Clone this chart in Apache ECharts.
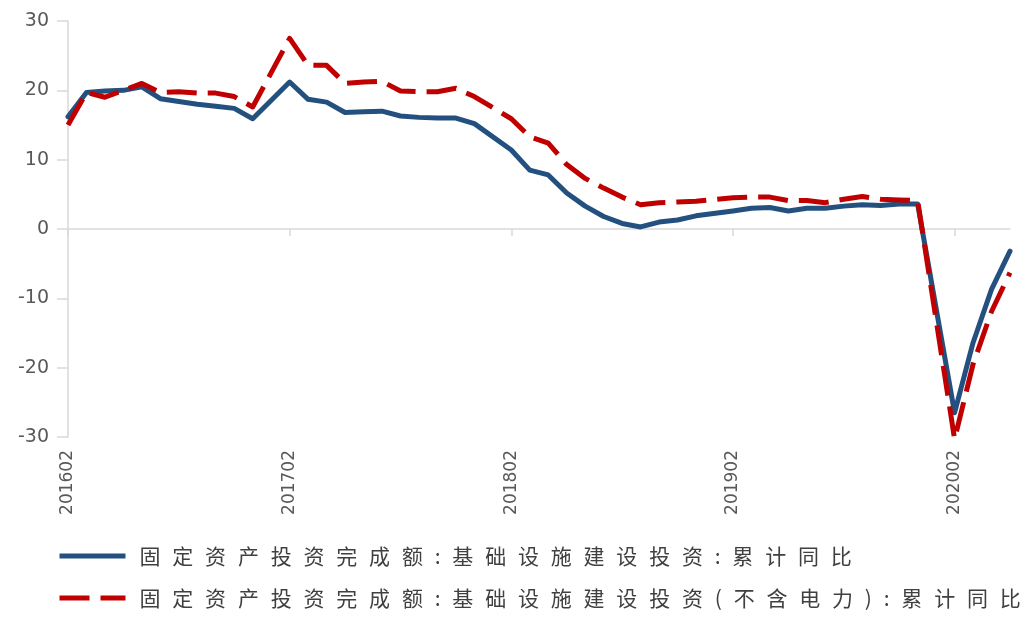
<!DOCTYPE html>
<html>
<head>
<meta charset="utf-8">
<script src="https://cdn.jsdelivr.net/npm/echarts@6/dist/echarts.min.js"></script>
<style>
html,body{margin:0;padding:0;background:#fff;}
#main{width:1029px;height:621px;}
</style>
</head>
<body>
<div id="main"></div>
<script>
// Monthly categories (January has no separate release; kept as empty gaps)
const categories = [
  '201602','201603','201604','201605','201606','201607','201608','201609','201610','201611','201612',
  '201701','201702','201703','201704','201705','201706','201707','201708','201709','201710','201711','201712',
  '201801','201802','201803','201804','201805','201806','201807','201808','201809','201810','201811','201812',
  '201901','201902','201903','201904','201905','201906','201907','201908','201909','201910','201911','201912',
  '202001','202002','202003','202004','202005'
];

const seriesNames = [
  '固定资产投资完成额:基础设施建设投资:累计同比',
  '固定资产投资完成额:基础设施建设投资(不含电力):累计同比'
];

// 基础设施建设投资 累计同比 (%)
const infraTotal = [
  16.2, 19.7, 19.9, 20.0, 20.5, 18.8, 18.4, 18.0, 17.7, 17.4, 15.9,
  null, 21.2, 18.7, 18.3, 16.8, 16.9, 17.0, 16.3, 16.1, 16.0, 16.0, 15.2,
  null, 11.4, 8.5, 7.8, 5.2, 3.3, 1.8, 0.8, 0.3, 1.0, 1.3, 1.9,
  null, 2.6, 3.0, 3.1, 2.6, 3.0, 3.0, 3.3, 3.5, 3.4, 3.6, 3.6,
  null, -26.5, -16.4, -8.7, -3.2
];

// 基础设施建设投资(不含电力) 累计同比 (%)
const infraExPower = [
  15.0, 19.7, 19.0, 20.0, 21.0, 19.7, 19.8, 19.6, 19.6, 19.1, 17.6,
  null, 27.5, 23.6, 23.6, 21.0, 21.2, 21.3, 19.9, 19.8, 19.8, 20.3, 19.1,
  null, 15.9, 13.3, 12.4, 9.3, 7.3, 5.9, 4.6, 3.5, 3.8, 3.9, 4.0,
  null, 4.5, 4.6, 4.6, 4.1, 4.1, 3.8, 4.3, 4.7, 4.3, 4.2, 4.1,
  null, -30.3, -19.5, -11.9, -6.3
];

const yTicks = { min: -30, max: 30, interval: 10 };

const chart = echarts.init(document.getElementById('main'), null, { renderer: 'canvas' });

function spaced(name) {
  return name.split('').map(function (ch, i) {
    return '{' + (i === 0 ? 'f' : 'c') + '|' + ch + '}';
  }).join('');
}

const axisGray = '#D9D9D9';
const labelGray = '#595959';

chart.setOption({
  backgroundColor: '#ffffff',
  animation: false,
  grid: { left: 68, right: 19, top: 21, bottom: 184, containLabel: false },
  legend: {
    orient: 'vertical',
    left: 57,
    top: 543,
    padding: 0,
    itemWidth: 66,
    itemHeight: 14,
    itemGap: 16,
    data: seriesNames,
    itemStyle: { opacity: 0 },
    lineStyle: { width: 5, cap: 'butt' },
    formatter: spaced,
    textStyle: {
      color: '#404040',
      lineHeight: 26,
      rich: {
        c: { fontFamily: 'Noto Sans CJK SC', fontSize: 21, color: '#404040', padding: [0, 5.9, 0, 5.9] },
        f: { fontFamily: 'Noto Sans CJK SC', fontSize: 21, color: '#404040', padding: [0, 5.9, 0, 9] }
      }
    }
  },
  xAxis: [
    {
      type: 'category',
      data: categories,
      boundaryGap: false,
      position: 'bottom',
      axisLine: { show: true, onZero: true, lineStyle: { color: axisGray, width: 1.5 } },
      axisTick: { show: true, interval: 11, length: 7, lineStyle: { color: axisGray, width: 1.5 } },
      axisLabel: { show: false },
      splitLine: { show: false }
    },
    {
      type: 'category',
      data: categories,
      boundaryGap: false,
      position: 'bottom',
      axisLine: { show: false, onZero: false },
      axisTick: { show: false },
      axisLabel: {
        show: true,
        interval: 11,
        rotate: 90,
        margin: 13,
        color: labelGray,
        fontFamily: 'DejaVu Sans',
        fontSize: 17
      },
      splitLine: { show: false }
    }
  ],
  yAxis: {
    type: 'value',
    min: yTicks.min,
    max: yTicks.max,
    interval: yTicks.interval,
    axisLine: { show: true, lineStyle: { color: axisGray, width: 1.5 } },
    axisTick: { show: true, length: 11, lineStyle: { color: axisGray, width: 1.5 } },
    axisLabel: { color: labelGray, fontFamily: 'DejaVu Sans', fontSize: 19, margin: 19 },
    splitLine: { show: false }
  },
  series: [
    {
      name: seriesNames[0],
      type: 'line',
      xAxisIndex: 0,
      data: infraTotal,
      connectNulls: true,
      symbol: 'none',
      clip: false,
      z: 3,
      itemStyle: { color: '#23507E' },
      lineStyle: { color: '#23507E', width: 5, join: 'round', cap: 'round' }
    },
    {
      name: seriesNames[1],
      type: 'line',
      xAxisIndex: 0,
      data: infraExPower,
      connectNulls: true,
      symbol: 'none',
      clip: false,
      z: 4,
      itemStyle: { color: '#C00000' },
      lineStyle: { color: '#C00000', width: 5, type: [30, 11], join: 'round', cap: 'butt' }
    }
  ]
});
</script>
</body>
</html>
